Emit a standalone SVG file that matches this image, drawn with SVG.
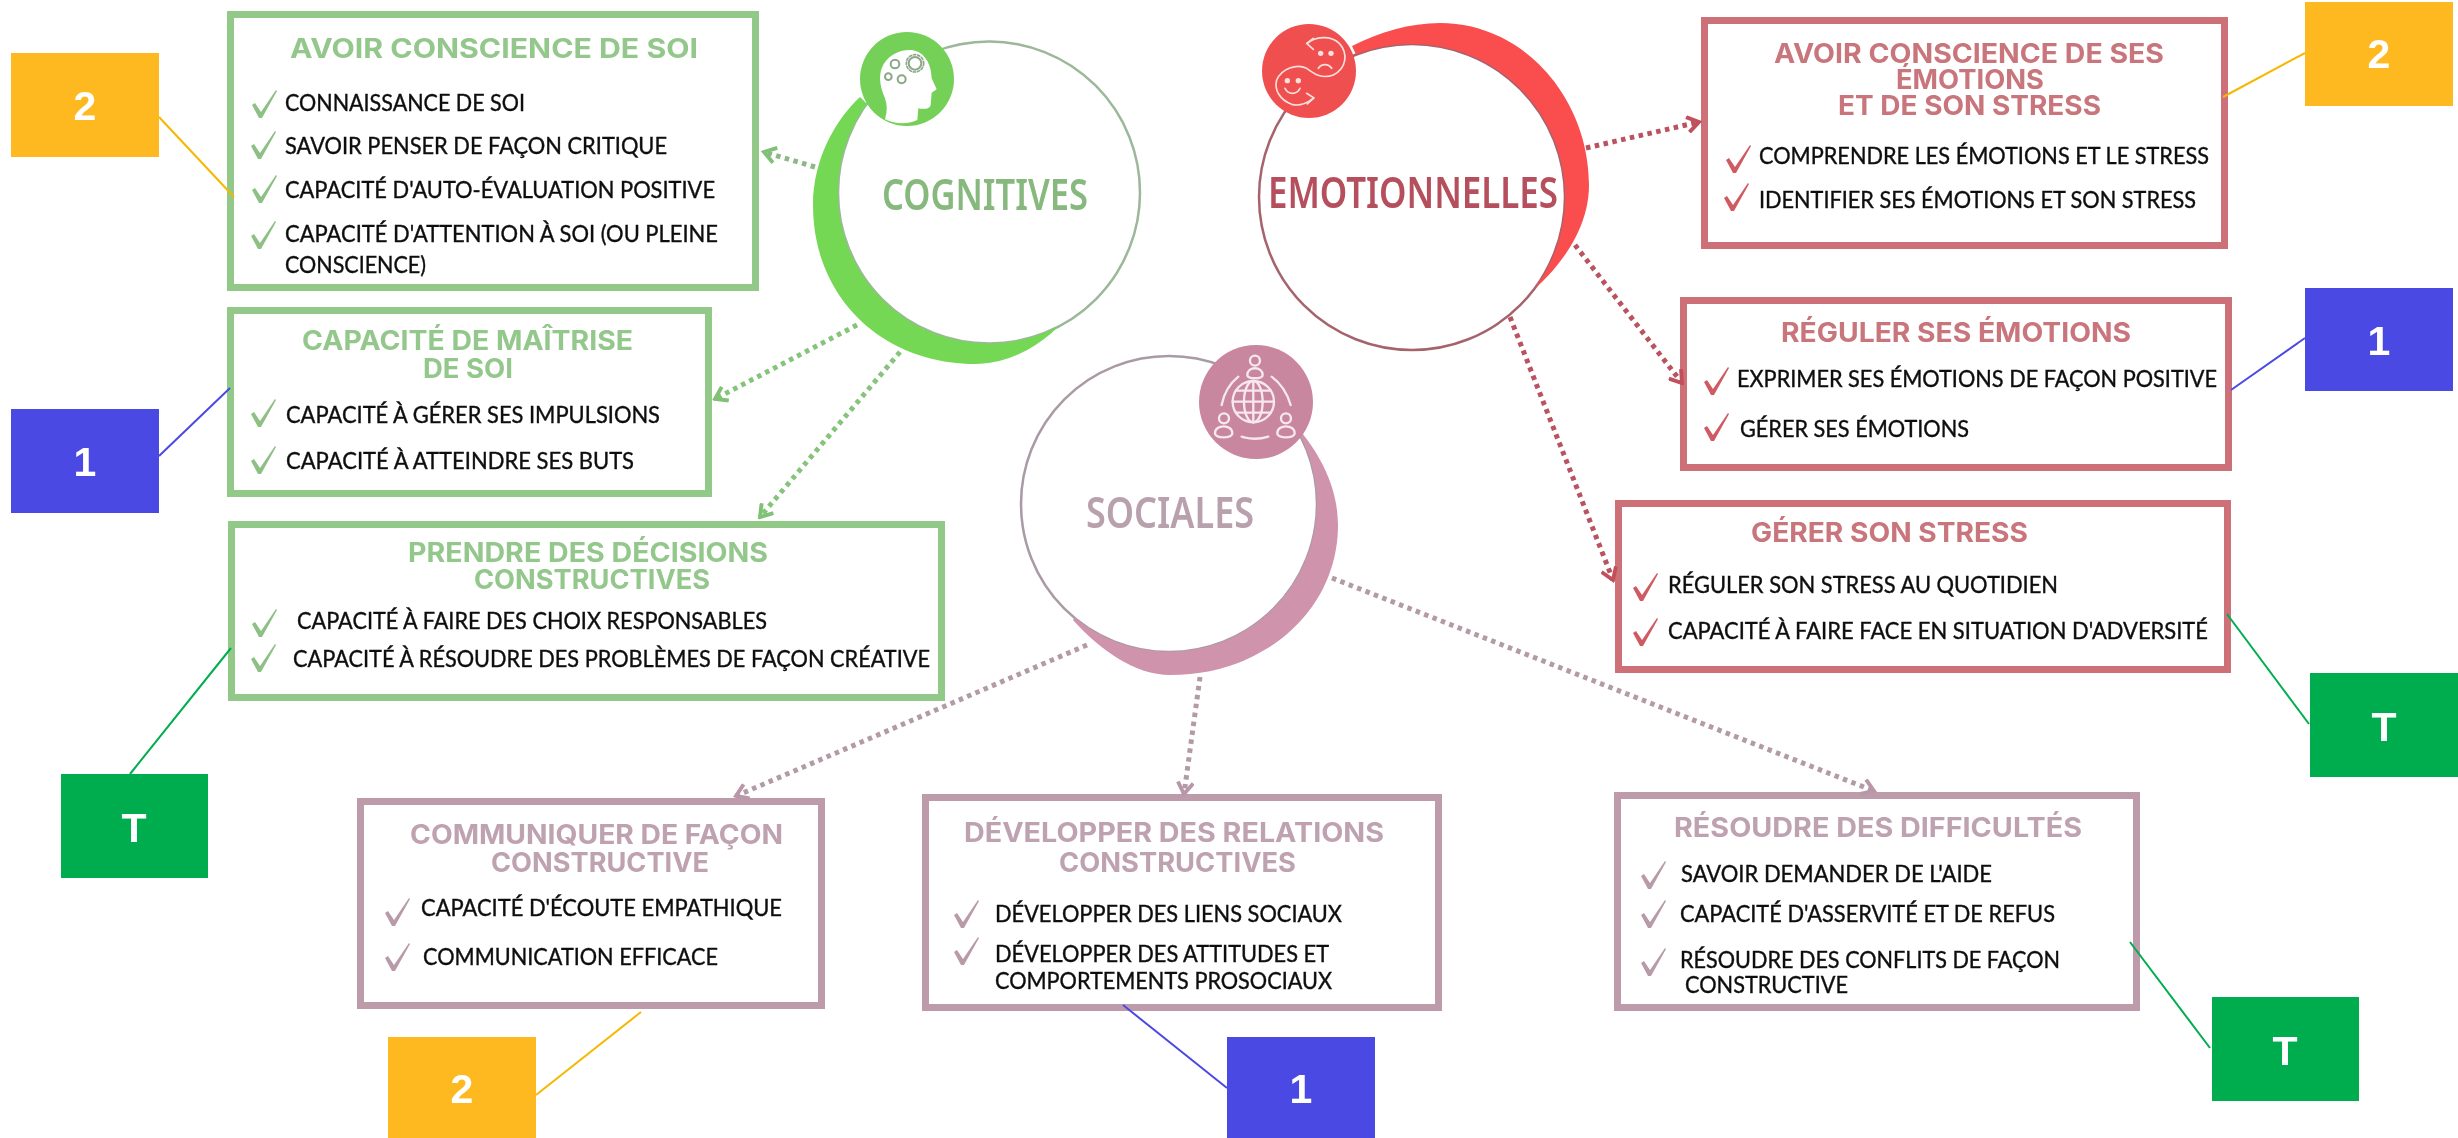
<svg xmlns="http://www.w3.org/2000/svg" xmlns:xlink="http://www.w3.org/1999/xlink" width="2458" height="1138" viewBox="0 0 2458 1138">
<style>
.bg{stroke-width:7;fill:#fff;stroke:#92c888}
.br{stroke-width:7;fill:#fff;stroke:#cd7078}
.bm{stroke-width:7;fill:#fff;stroke:#bd9bab}
text{font-family:"Lato","Noto Sans","Liberation Sans",sans-serif;font-size:24px;fill:#101010;stroke:#101010;stroke-width:.4px}
text.h{font-family:"Inter","Open Sans","Liberation Sans",sans-serif;font-weight:700;font-size:27px;stroke:none}
.g text.h{fill:#93c78b}.r text.h{fill:#c9757c}.m text.h{fill:#bfa2b0}
.g use{fill:#8ec085}.r use{fill:#cf5a62}.m use{fill:#b99aa8}
text.c{font-family:"Noto Sans","Open Sans",sans-serif;font-weight:600;font-size:44px;stroke:none}
text.t{font-family:"Liberation Sans",Arial,sans-serif;font-weight:700;font-size:41px;fill:#fff;stroke:none;text-anchor:middle}
.dot{fill:none;stroke-width:5;stroke-dasharray:4.5 4.5}
.lead{fill:none;stroke-width:2}
.ico{fill:none;stroke-linecap:round;stroke-linejoin:round}
</style>
<defs>
<path id="ck" d="M0,15 L3,13 L9,22 L24,0 L25,1 L10,28 L7,28 Z"/>
<filter id="soft" x="-5%" y="-5%" width="110%" height="110%"><feGaussianBlur stdDeviation="0.6"/></filter>
<marker id="ag" markerUnits="userSpaceOnUse" markerWidth="18" markerHeight="18" viewBox="0 0 14 14" refX="12" refY="7" orient="auto"><path d="M3,1 L12,7 L3,13" fill="none" stroke="#7fc174" stroke-width="3"/></marker>
<marker id="ar" markerUnits="userSpaceOnUse" markerWidth="18" markerHeight="18" viewBox="0 0 14 14" refX="12" refY="7" orient="auto"><path d="M3,1 L12,7 L3,13" fill="none" stroke="#c2505c" stroke-width="3"/></marker>
<marker id="am" markerUnits="userSpaceOnUse" markerWidth="18" markerHeight="18" viewBox="0 0 14 14" refX="12" refY="7" orient="auto"><path d="M3,1 L12,7 L3,13" fill="none" stroke="#b897a8" stroke-width="3"/></marker>
</defs>
<rect width="2458" height="1138" fill="#fff"/>

<g filter="url(#soft)">
<g id="box-conscience-soi" class="g">
<rect class="bg" x="230.5" y="14.5" width="525" height="273"/>
<text class="h" x="290" y="58" textLength="408" lengthAdjust="spacingAndGlyphs">AVOIR CONSCIENCE DE SOI</text>
<use href="#ck" x="252" y="90"/><text x="285" y="111" textLength="240" lengthAdjust="spacingAndGlyphs">CONNAISSANCE DE SOI</text>
<use href="#ck" x="251" y="131"/><text x="285" y="154" textLength="382" lengthAdjust="spacingAndGlyphs">SAVOIR PENSER DE FAÇON CRITIQUE</text>
<use href="#ck" x="252" y="175"/><text x="285" y="198" textLength="430" lengthAdjust="spacingAndGlyphs">CAPACITÉ D'AUTO-ÉVALUATION POSITIVE</text>
<use href="#ck" x="251" y="221"/><text x="285" y="242" textLength="433" lengthAdjust="spacingAndGlyphs">CAPACITÉ D'ATTENTION À SOI (OU PLEINE</text>
<text x="285" y="273" textLength="141" lengthAdjust="spacingAndGlyphs">CONSCIENCE)</text>
</g>
<g id="box-maitrise-soi" class="g">
<rect class="bg" x="230.5" y="310.5" width="478" height="183"/>
<text class="h" x="302" y="350" textLength="331" lengthAdjust="spacingAndGlyphs">CAPACITÉ DE MAÎTRISE</text>
<text class="h" x="423" y="378" textLength="90" lengthAdjust="spacingAndGlyphs">DE SOI</text>
<use href="#ck" x="251" y="399"/><text x="286" y="423" textLength="374" lengthAdjust="spacingAndGlyphs">CAPACITÉ À GÉRER SES IMPULSIONS</text>
<use href="#ck" x="251" y="446"/><text x="286" y="469" textLength="348" lengthAdjust="spacingAndGlyphs">CAPACITÉ À ATTEINDRE SES BUTS</text>
</g>
<g id="box-decisions" class="g">
<rect class="bg" x="231.5" y="524.5" width="710" height="173"/>
<text class="h" x="408" y="562" textLength="360" lengthAdjust="spacingAndGlyphs">PRENDRE DES DÉCISIONS</text>
<text class="h" x="474" y="589" textLength="236" lengthAdjust="spacingAndGlyphs">CONSTRUCTIVES</text>
<use href="#ck" x="252" y="609"/><text x="297" y="629" textLength="470" lengthAdjust="spacingAndGlyphs">CAPACITÉ À FAIRE DES CHOIX RESPONSABLES</text>
<use href="#ck" x="251" y="644"/><text x="293" y="667" textLength="637" lengthAdjust="spacingAndGlyphs">CAPACITÉ À RÉSOUDRE DES PROBLÈMES DE FAÇON CRÉATIVE</text>
</g>

<g id="box-conscience-emotions" class="r">
<rect class="br" x="1704.5" y="20.5" width="520" height="225"/>
<text class="h" x="1774" y="63" textLength="390" lengthAdjust="spacingAndGlyphs">AVOIR CONSCIENCE DE SES</text>
<text class="h" x="1896" y="89" textLength="148" lengthAdjust="spacingAndGlyphs">ÉMOTIONS</text>
<text class="h" x="1838" y="115" textLength="263" lengthAdjust="spacingAndGlyphs">ET DE SON STRESS</text>
<use href="#ck" x="1726" y="145"/><text x="1759" y="164" textLength="450" lengthAdjust="spacingAndGlyphs">COMPRENDRE LES ÉMOTIONS ET LE STRESS</text>
<use href="#ck" x="1724" y="183"/><text x="1759" y="208" textLength="437" lengthAdjust="spacingAndGlyphs">IDENTIFIER SES ÉMOTIONS ET SON STRESS</text>
</g>
<g id="box-reguler-emotions" class="r">
<rect class="br" x="1683.5" y="300.5" width="545" height="167"/>
<text class="h" x="1781" y="342" textLength="350" lengthAdjust="spacingAndGlyphs">RÉGULER SES ÉMOTIONS</text>
<use href="#ck" x="1704" y="367"/><text x="1737" y="387" textLength="480" lengthAdjust="spacingAndGlyphs">EXPRIMER SES ÉMOTIONS DE FAÇON POSITIVE</text>
<use href="#ck" x="1704" y="413"/><text x="1740" y="437" textLength="229" lengthAdjust="spacingAndGlyphs">GÉRER SES ÉMOTIONS</text>
</g>
<g id="box-gerer-stress" class="r">
<rect class="br" x="1618.5" y="503.5" width="609" height="166"/>
<text class="h" x="1751" y="542" textLength="277" lengthAdjust="spacingAndGlyphs">GÉRER SON STRESS</text>
<use href="#ck" x="1633" y="573"/><text x="1668" y="593" textLength="390" lengthAdjust="spacingAndGlyphs">RÉGULER SON STRESS AU QUOTIDIEN</text>
<use href="#ck" x="1633" y="618"/><text x="1668" y="639" textLength="540" lengthAdjust="spacingAndGlyphs">CAPACITÉ À FAIRE FACE EN SITUATION D'ADVERSITÉ</text>
</g>

<g id="box-communiquer" class="m">
<rect class="bm" x="360.5" y="801.5" width="461" height="204"/>
<text class="h" x="410" y="844" textLength="373" lengthAdjust="spacingAndGlyphs">COMMUNIQUER DE FAÇON</text>
<text class="h" x="491" y="872" textLength="218" lengthAdjust="spacingAndGlyphs">CONSTRUCTIVE</text>
<use href="#ck" x="385" y="898"/><text x="421" y="916" textLength="361" lengthAdjust="spacingAndGlyphs">CAPACITÉ D'ÉCOUTE EMPATHIQUE</text>
<use href="#ck" x="385" y="943"/><text x="423" y="965" textLength="295" lengthAdjust="spacingAndGlyphs">COMMUNICATION EFFICACE</text>
</g>
<g id="box-relations" class="m">
<rect class="bm" x="925.5" y="797.5" width="513" height="210"/>
<text class="h" x="964" y="842" textLength="420" lengthAdjust="spacingAndGlyphs">DÉVELOPPER DES RELATIONS</text>
<text class="h" x="1059" y="872" textLength="237" lengthAdjust="spacingAndGlyphs">CONSTRUCTIVES</text>
<use href="#ck" x="954" y="900"/><text x="995" y="922" textLength="347" lengthAdjust="spacingAndGlyphs">DÉVELOPPER DES LIENS SOCIAUX</text>
<use href="#ck" x="954" y="937"/><text x="995" y="962" textLength="334" lengthAdjust="spacingAndGlyphs">DÉVELOPPER DES ATTITUDES ET</text>
<text x="995" y="989" textLength="337" lengthAdjust="spacingAndGlyphs">COMPORTEMENTS PROSOCIAUX</text>
</g>
<g id="box-difficultes" class="m">
<rect class="bm" x="1617.5" y="795.5" width="519" height="212"/>
<text class="h" x="1674" y="837" textLength="408" lengthAdjust="spacingAndGlyphs">RÉSOUDRE DES DIFFICULTÉS</text>
<use href="#ck" x="1641" y="861"/><text x="1681" y="882" textLength="311" lengthAdjust="spacingAndGlyphs">SAVOIR DEMANDER DE L'AIDE</text>
<use href="#ck" x="1641" y="900"/><text x="1680" y="922" textLength="375" lengthAdjust="spacingAndGlyphs">CAPACITÉ D'ASSERVITÉ ET DE REFUS</text>
<use href="#ck" x="1641" y="948"/><text x="1680" y="968" textLength="380" lengthAdjust="spacingAndGlyphs">RÉSOUDRE DES CONFLITS DE FAÇON</text>
<text x="1685" y="993" textLength="163" lengthAdjust="spacingAndGlyphs">CONSTRUCTIVE</text>
</g>

<g id="connectors-dotted">
<line class="dot" stroke="#8cb885" x1="815" y1="167" x2="764" y2="152" marker-end="url(#ag)"/>
<line class="dot" stroke="#85c47a" x1="857" y1="325" x2="715" y2="399" marker-end="url(#ag)"/>
<line class="dot" stroke="#85c47a" x1="900" y1="352" x2="760" y2="517" marker-end="url(#ag)"/>
<line class="dot" stroke="#b8525e" x1="1586" y1="148" x2="1699" y2="122" marker-end="url(#ar)"/>
<line class="dot" stroke="#b8525e" x1="1575" y1="245" x2="1682" y2="383" marker-end="url(#ar)"/>
<line class="dot" stroke="#b8525e" x1="1510" y1="317" x2="1613" y2="580" marker-end="url(#ar)"/>
<line class="dot" stroke="#b39aa7" x1="1087" y1="645" x2="736" y2="796" marker-end="url(#am)"/>
<line class="dot" stroke="#b39aa7" x1="1200" y1="677" x2="1184" y2="794" marker-end="url(#am)"/>
<line class="dot" stroke="#b39aa7" x1="1332" y1="578" x2="1874" y2="791" marker-end="url(#am)"/>
</g>

<g id="node-cognitives">
<circle cx="989" cy="192.5" r="151" fill="#fff" stroke="#9cb79a" stroke-width="2.5"/>
<path d="M860,97 C835,120 813,160 813,205 C813,300 885,364 975,364 C1005,364 1035,350 1058.6,326.6 A151,151 0 0 1 866.8,103.7 Z" fill="#74d854"/>
<circle cx="907" cy="79" r="47" fill="#74d059"/>
<g transform="translate(840,30) scale(.3333)">
<path d="M135,268 C142,245 142,225 135,205 C122,175 115,145 125,115 C140,75 180,58 215,60 C255,65 275,105 275,145 L290,178 L275,188 L272,225 C270,238 250,238 235,235 L232,270 C200,285 165,282 135,268 Z" fill="#fff"/>
<g class="ico" stroke="#8aa887" stroke-width="6">
<circle cx="225" cy="100" r="19"/><circle cx="225" cy="100" r="26" stroke-dasharray="7 6" stroke-width="5"/>
<circle cx="165" cy="102" r="13"/><circle cx="145" cy="140" r="10"/><circle cx="185" cy="148" r="12"/>
</g>
</g>
<text class="c" x="882" y="210" style="fill:#87b97e" textLength="206" lengthAdjust="spacingAndGlyphs">COGNITIVES</text>
</g>

<g id="node-emotionnelles">
<circle cx="1412" cy="197" r="153" fill="#fff" stroke="#a5636c" stroke-width="2.5"/>
<path d="M1352,46 C1380,32 1410,23 1440,23 C1525,23 1589,100 1589,185 C1589,225 1565,262 1534,289.5 A153,153 0 0 0 1356,54.6 Z" fill="#fa4e4e"/>
<circle cx="1309" cy="71" r="47" fill="#f05050"/>
<g transform="translate(1250,10) scale(.3333)">
<g class="ico" stroke="#fbe0dc" stroke-width="5">
<path d="M172,100 C195,80 240,75 268,100 C295,130 290,175 250,195 C215,208 190,190 170,175 C140,160 95,175 80,210 C72,240 90,270 125,283 C150,290 170,280 190,265"/>
<path d="M190,85 L170,100 L190,118"/><path d="M170,250 L192,264 L172,282"/>
<path d="M205,175 C215,160 235,160 245,175"/><path d="M105,235 C115,255 140,255 150,235"/>
</g>
<circle cx="212" cy="130" r="8" fill="#fbe0dc"/><circle cx="243" cy="130" r="8" fill="#fbe0dc"/>
<circle cx="112" cy="212" r="8" fill="#fbe0dc"/><circle cx="145" cy="212" r="8" fill="#fbe0dc"/>
</g>
<text class="c" x="1268" y="208" style="fill:#b5505d" textLength="290" lengthAdjust="spacingAndGlyphs">EMOTIONNELLES</text>
</g>

<g id="node-sociales">
<circle cx="1169" cy="504" r="148" fill="#fff" stroke="#a99aa5" stroke-width="2.5"/>
<path d="M1299.5,434.3 L1302,433 C1330,468 1338,500 1338,525 C1338,610 1265,675 1170,675 C1135,675 1100,650 1073,620 L1074.7,618 A148,148 0 0 0 1299.5,434.3 Z" fill="#cf93ac"/>
<circle cx="1256" cy="402" r="57" fill="#c9869f"/>
<g transform="translate(1000,320) scale(.3333)">
<g class="ico" stroke="#f6e8ee" stroke-width="7">
<circle cx="760" cy="245" r="62"/><ellipse cx="760" cy="245" rx="28" ry="62"/>
<path d="M760,183 V307 M698,245 H822 M708,212 H812 M708,278 H812"/>
<circle cx="765" cy="122" r="15"/><path d="M742,165 C742,138 788,138 788,165 C788,178 742,178 742,165 Z"/>
<circle cx="672" cy="295" r="15"/><path d="M645,340 C645,312 697,312 697,340 C697,356 645,356 645,340 Z"/>
<circle cx="858" cy="295" r="15"/><path d="M832,340 C832,312 884,312 884,340 C884,356 832,356 832,340 Z"/>
<path d="M715,170 C690,190 672,220 665,255 M815,170 C842,190 862,220 872,255 M725,350 C750,358 780,358 805,350"/>
</g>
</g>
<text class="c" x="1086" y="528" style="fill:#b9a0ad" textLength="168" lengthAdjust="spacingAndGlyphs">SOCIALES</text>
</g>
</g>

<g id="connectors-leaders">
<line class="lead" stroke="#f5b800" x1="159" y1="117" x2="234" y2="197"/>
<line class="lead" stroke="#4a49e3" x1="159" y1="456" x2="230" y2="388"/>
<line class="lead" stroke="#00ad4e" x1="130" y1="774" x2="231" y2="648"/>
<line class="lead" stroke="#f5b800" x1="2305" y1="53" x2="2223" y2="97"/>
<line class="lead" stroke="#4a49e3" x1="2305" y1="338" x2="2231" y2="390"/>
<line class="lead" stroke="#00ad4e" x1="2227" y1="614" x2="2309" y2="724"/>
<line class="lead" stroke="#f5b800" x1="536" y1="1095" x2="641" y2="1012"/>
<line class="lead" stroke="#4a49e3" x1="1227" y1="1088" x2="1123" y2="1005"/>
<line class="lead" stroke="#00ad4e" x1="2130" y1="942" x2="2210" y2="1048"/>
</g>

<g id="tag-2-left"><rect x="11" y="53" width="148" height="104" fill="#fdb91f"/><text class="t" x="85" y="120">2</text></g>
<g id="tag-1-left"><rect x="11" y="409" width="148" height="104" fill="#4a49e3"/><text class="t" x="85" y="476">1</text></g>
<g id="tag-t-left"><rect x="61" y="774" width="147" height="104" fill="#00ad4e"/><text class="t" x="134" y="842">T</text></g>
<g id="tag-2-right"><rect x="2305" y="2" width="148" height="104" fill="#fdb91f"/><text class="t" x="2379" y="68">2</text></g>
<g id="tag-1-right"><rect x="2305" y="288" width="148" height="103" fill="#4a49e3"/><text class="t" x="2379" y="355">1</text></g>
<g id="tag-t-right"><rect x="2310" y="673" width="148" height="104" fill="#00ad4e"/><text class="t" x="2384" y="741">T</text></g>
<g id="tag-2-bottom"><rect x="388" y="1037" width="148" height="101" fill="#fdb91f"/><text class="t" x="462" y="1103">2</text></g>
<g id="tag-1-bottom"><rect x="1227" y="1037" width="148" height="101" fill="#4a49e3"/><text class="t" x="1301" y="1103">1</text></g>
<g id="tag-t-bottom"><rect x="2212" y="997" width="147" height="104" fill="#00ad4e"/><text class="t" x="2285" y="1065">T</text></g>
</svg>
